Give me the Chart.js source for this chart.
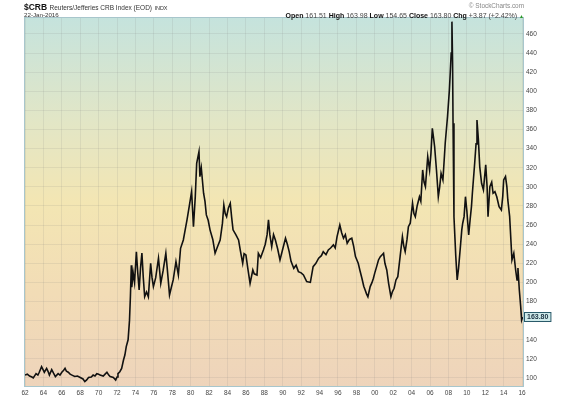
<!DOCTYPE html>
<html>
<head>
<meta charset="utf-8">
<script src="https://cdn.jsdelivr.net/npm/chart.js@4/dist/chart.umd.min.js"></script>
<style>
    html, body { margin: 0; padding: 0; background: #fff; }
    #wrap { position: relative; width: 570px; height: 399px; font-family: "Liberation Sans", Arial, sans-serif; }
    #wrap canvas { position: absolute; left: 0; top: 0; }
    .hdr { position: absolute; white-space: nowrap; color: #333; line-height: 1; }
    .sym { left: 24px; top: 3px; font-size: 8.5px; font-weight: bold; color: #111; }
    .sym span { font-weight: normal; font-size: 6.5px; color: #333; }
    .sym small { font-size: 5.5px; font-weight: normal; color: #333; }
    .date { left: 24px; top: 12px; font-size: 6.2px; }
    .copy { right: 46px; top: 3px; font-size: 6.4px; color: #888; }
    .ohlc { right: 46px; top: 12px; font-size: 7px; color: #444; }
    .ohlc b { color: #111; }
    .ohlc .up { color: #2a9a2a; font-size: 5px; }
</style>
</head>
<body>
<div id="wrap">
    <canvas id="crbChart" width="570" height="399"></canvas>
    <div class="hdr sym">$CRB <span>Reuters/Jefferies CRB Index (EOD)</span> <small>INDX</small></div>
    <div class="hdr date">22-Jan-2016</div>
    <div class="hdr copy">© StockCharts.com</div>
    <div class="hdr ohlc"><b>Open</b> 161.51 <b>High</b> 163.98 <b>Low</b> 154.65 <b>Close</b> 163.80 <b>Chg</b> +3.87 (+2.42%) <span class="up">▲</span></div>
</div>
<script>
// ── Data ──────────────────────────────────────────────────────
const years = [
    1962.0, 1962.25, 1962.5, 1962.75, 1962.9, 1963.2, 1963.4, 1963.55, 1963.8, 1964.0,
    1964.1, 1964.35, 1964.5, 1964.65, 1964.9, 1965.1, 1965.3, 1965.6, 1965.8, 1966.0,
    1966.2, 1966.35, 1966.5, 1966.7, 1966.9, 1967.1, 1967.4, 1967.7, 1968.0, 1968.3,
    1968.5, 1968.7, 1968.9, 1969.2, 1969.4, 1969.6, 1969.8, 1970.0, 1970.15, 1970.5,
    1970.7, 1970.9, 1971.1, 1971.25, 1971.6, 1971.85, 1972.0, 1972.1, 1972.3, 1972.5,
    1972.7, 1972.85, 1973.0, 1973.2, 1973.35, 1973.45, 1973.55, 1973.6, 1973.75, 1973.9,
    1974.1, 1974.25, 1974.4, 1974.55, 1974.7, 1974.85, 1975.0, 1975.2, 1975.4, 1975.65,
    1975.8, 1975.95, 1976.2, 1976.5, 1976.6, 1976.75, 1977.0, 1977.3, 1977.45, 1977.7,
    1977.9, 1978.1, 1978.4, 1978.66, 1978.9, 1979.2, 1979.4, 1979.6, 1979.85, 1980.1,
    1980.3, 1980.5, 1980.65, 1980.9, 1981.0, 1981.15, 1981.4, 1981.55, 1981.7, 1981.9,
    1982.1, 1982.4, 1982.65, 1982.9, 1983.2, 1983.45, 1983.6, 1983.75, 1983.9, 1984.1,
    1984.3, 1984.45, 1984.6, 1984.9, 1985.2, 1985.4, 1985.65, 1985.8, 1986.0, 1986.2,
    1986.45, 1986.75, 1986.9, 1987.2, 1987.35, 1987.6, 1987.9, 1988.1, 1988.3, 1988.45,
    1988.6, 1988.8, 1989.0, 1989.2, 1989.45, 1989.7, 1990.0, 1990.3, 1990.5, 1990.7,
    1990.9, 1991.2, 1991.45, 1991.7, 1992.0, 1992.25, 1992.6, 1993.0, 1993.3, 1993.6,
    1993.9, 1994.2, 1994.4, 1994.7, 1994.95, 1995.2, 1995.5, 1995.7, 1995.9, 1996.2,
    1996.4, 1996.6, 1996.8, 1997.0, 1997.25, 1997.5, 1997.7, 1997.9, 1998.2, 1998.4,
    1998.6, 1998.8, 1998.95, 1999.1, 1999.25, 1999.5, 1999.7, 1999.85, 2000.0, 2000.2,
    2000.4, 2000.6, 2000.8, 2000.95, 2001.1, 2001.3, 2001.5, 2001.75, 2001.9, 2002.1,
    2002.3, 2002.5, 2002.75, 2003.0, 2003.15, 2003.3, 2003.5, 2003.65, 2003.85, 2004.1,
    2004.25, 2004.4, 2004.6, 2004.85, 2005.0, 2005.2, 2005.35, 2005.5, 2005.75, 2005.95,
    2006.1, 2006.25, 2006.4, 2006.5, 2006.7, 2006.9, 2007.05, 2007.2, 2007.4, 2007.55,
    2007.65, 2007.9, 2008.1, 2008.2, 2008.3, 2008.38, 2008.45, 2008.5, 2008.6, 2008.8,
    2008.95, 2009.1, 2009.3, 2009.45, 2009.55, 2009.7, 2009.85, 2010.0, 2010.1, 2010.2,
    2010.35, 2010.5, 2010.6, 2010.85, 2011.0, 2011.1, 2011.25, 2011.4, 2011.6, 2011.8,
    2012.05, 2012.2, 2012.3, 2012.5, 2012.7, 2012.85, 2013.05, 2013.25, 2013.5, 2013.75,
    2013.9, 2014.0, 2014.2, 2014.35, 2014.45, 2014.65, 2014.9, 2015.1, 2015.3, 2015.45,
    2015.55, 2015.7, 2015.85, 2015.95, 2016.06
];

const closes = [
    103, 104, 102, 101, 100, 104.5, 103, 106, 111.8, 108,
    106, 110, 107, 103, 108.7, 105, 101.5, 104.5, 103, 106,
    108, 110, 107, 106, 104, 103, 101.5, 102, 100.5, 99,
    96.2, 98, 100.5, 101, 103, 102, 104.5, 104, 103, 102,
    104, 106, 103, 101.5, 100.5, 97.8, 101, 104.5, 106.6, 110,
    118.8, 124, 132.8, 140, 160, 185, 218, 195, 210, 200,
    232, 210, 192, 215, 230.8, 205, 185, 190, 185, 220,
    205, 195.6, 205, 225.3, 215, 199, 212, 230.5, 215, 186.9,
    195, 202.6, 221.7, 207.8, 235.7, 244.4, 255, 265.4, 280, 295,
    258.3, 290, 324.7, 336.8, 310.7, 320, 293.3, 285, 270.6, 265,
    255, 245, 230.5, 237, 244.4, 262, 281, 272, 268.8, 278,
    282.8, 268, 255, 250, 244.4, 233, 220, 230, 228.7, 215,
    199, 213, 209, 207.8, 230.5, 226, 234, 240, 250, 265.4,
    250, 237.4, 250, 244.4, 235, 223.5, 235, 246.2, 240, 232.2,
    222, 214.8, 218, 211.3, 210, 207.8, 200.8, 200, 216.5, 220,
    225.3, 228, 232.2, 229, 234, 236, 239.2, 236, 247.9, 260.1,
    252, 246.2, 250, 241, 245, 246.2, 238, 227, 220, 212,
    204.4, 196, 192, 188, 185, 195.6, 200, 204.4, 210, 216.5,
    223.5, 227, 229, 230.5, 220, 213, 199, 185, 190, 193.9,
    202.6, 206, 227, 247.9, 238, 232.2, 245, 258.3, 262, 282.8,
    272, 268.8, 280, 289.7, 285, 317.7, 305, 300.2, 331.6, 317.7,
    335, 361.3, 350, 342, 317.7, 289.7, 300, 314.2, 307.2, 330,
    345.6, 373.5, 401, 420, 440, 472.9, 430, 366.5, 268.8, 227,
    202.6, 215, 237.4, 255, 261.9, 268.8, 289.7, 275, 261.9, 249.6,
    265, 279.3, 293.3, 324.7, 345, 370, 350, 321.2, 303.7, 296.8,
    323, 300, 268.8, 300.2, 305, 293.3, 295, 289.7, 279.3, 275.8,
    290, 307.2, 310.7, 300, 286.3, 268.8, 223.5, 230.5, 213, 202.6,
    215, 192, 174.6, 160.7, 163.8
];

const xTickYears  = [1962, 1964, 1966, 1968, 1970, 1972, 1974, 1976, 1978, 1980,
                     1982, 1984, 1986, 1988, 1990, 1992, 1994, 1996, 1998, 2000,
                     2002, 2004, 2006, 2008, 2010, 2012, 2014, 2016];
const xTickLabels = ["62", "64", "66", "68", "70", "72", "74", "76", "78", "80",
                     "82", "84", "86", "88", "90", "92", "94", "96", "98", "00",
                     "02", "04", "06", "08", "10", "12", "14", "16"];
const yTickValues = [100, 120, 140, 160, 180, 200, 220, 240, 260, 280,
                     300, 320, 340, 360, 380, 400, 420, 440, 460];
const lastClose = "163.80";

// ── Plugins ───────────────────────────────────────────────────
const plotBackground = {
    id: "plotBackground",
    beforeDraw(chart) {
        const { ctx, chartArea: a } = chart;
        const g = ctx.createLinearGradient(0, a.top, 0, a.bottom);
        g.addColorStop(0,    "#c5e3dd");
        g.addColorStop(0.28, "#e2e6c6");
        g.addColorStop(0.5,  "#f3e6b3");
        g.addColorStop(0.75, "#f2dcb6");
        g.addColorStop(1,    "#eed4bb");
        ctx.save();
        ctx.fillStyle = g;
        ctx.fillRect(a.left, a.top, a.right - a.left, a.bottom - a.top);
        ctx.restore();
    },
    afterDraw(chart) {
        const { ctx, chartArea: a } = chart;
        ctx.save();
        ctx.strokeStyle = "#a8c6cc";
        ctx.lineWidth = 1;
        ctx.strokeRect(a.left - 0.5, a.top - 0.5, a.right - a.left + 1, a.bottom - a.top + 1);
        ctx.restore();
    }
};

// last value tag on the right axis
const lastValueTag = {
    id: "lastValueTag",
    afterDraw(chart) {
        const { ctx, chartArea: a, scales } = chart;
        const y = scales.y.getPixelForValue(closes[closes.length - 1]);
        ctx.save();
        ctx.font = "bold 7px 'Liberation Sans', Arial, sans-serif";
        const w = ctx.measureText(lastClose).width + 5;
        ctx.fillStyle = "#cfeaea";
        ctx.strokeStyle = "#2a5a6a";
        ctx.lineWidth = 1;
        ctx.fillRect(a.right + 1.5, y - 4.5, w, 9);
        ctx.strokeRect(a.right + 1.5, y - 4.5, w, 9);
        ctx.fillStyle = "#1a3040";
        ctx.textBaseline = "middle";
        ctx.fillText(lastClose, a.right + 4, y + 0.5);
        ctx.restore();
    }
};

// ── Chart ─────────────────────────────────────────────────────
const tickFont = { family: "'Liberation Sans', Arial, sans-serif", size: 6.5 };

new Chart(document.getElementById("crbChart").getContext("2d"), {
    type: "line",
    data: {
        datasets: [{
            data: years.map((yr, i) => ({ x: yr, y: closes[i] })),
            borderColor: "#111",
            borderWidth: 1.6,
            pointRadius: 0,
            tension: 0,
            fill: false
        }]
    },
    options: {
        responsive: false,
        animation: false,
        layout: { padding: { left: 25, top: 18, right: 0, bottom: 0 } },
        plugins: { legend: { display: false }, tooltip: { enabled: false } },
        scales: {
            x: {
                type: "linear",
                min: 1962,
                max: 2016.1,
                afterBuildTicks: s => { s.ticks = xTickYears.map(v => ({ value: v })); },
                afterFit: s => { s.height = 13; },
                grid: { color: "rgba(120,120,120,0.13)", drawTicks: false },
                border: { display: false },
                ticks: {
                    padding: 3,
                    color: "#444",
                    font: tickFont,
                    maxRotation: 0,
                    autoSkip: false,
                    callback: v => xTickLabels[xTickYears.indexOf(v)]
                }
            },
            y: {
                position: "right",
                min: 91.6,
                max: 476.7,
                afterBuildTicks: s => { s.ticks = yTickValues.map(v => ({ value: v })); },
                afterFit: s => { s.width = 47; },
                grid: { color: "rgba(120,120,120,0.13)", drawTicks: false },
                border: { display: false },
                ticks: { padding: 3, color: "#444", font: tickFont }
            }
        }
    },
    plugins: [plotBackground, lastValueTag]
});
</script>
</body>
</html>
